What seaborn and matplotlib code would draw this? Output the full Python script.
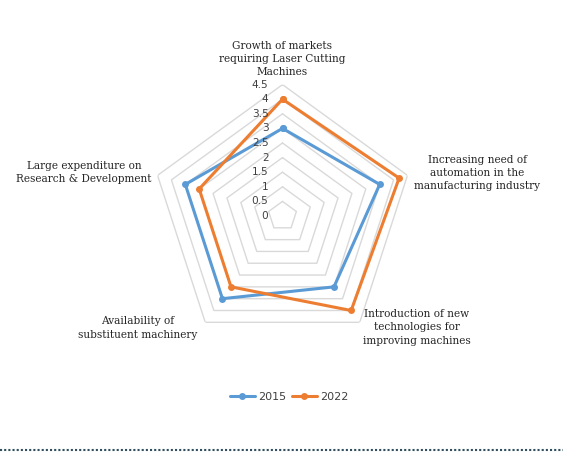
import numpy as np
import pandas as pd
import matplotlib
matplotlib.use("Agg")
import matplotlib.pyplot as plt
import seaborn as sns
from matplotlib import transforms
from matplotlib.lines import Line2D

categories = [
    "Growth of markets\nrequiring Laser Cutting\nMachines",
    "Increasing need of\nautomation in the\nmanufacturing industry",
    "Introduction of new\ntechnologies for\nimproving machines",
    "Availability of\nsubstituent machinery",
    "Large expenditure on\nResearch & Development",
]
values_2015 = [3, 3.5, 3, 3.5, 3.5]
values_2022 = [4, 4.2, 4, 3, 3]
years = ["2015", "2022"]
tick_values = [0, 0.5, 1, 1.5, 2, 2.5, 3, 3.5, 4, 4.5]
colors = {"2015": "#5B9BD5", "2022": "#ED7D31"}

sns.set_style("white")
plt.rcParams["font.family"] = ["DejaVu Sans"]

W, H = 563, 453
fig = plt.figure(figsize=(W / 100, H / 100), dpi=100)
cx, cy, R = 282.5, 216, 131.4
ax = fig.add_axes([(cx - R) / W, (H - cy - R) / H, 2 * R / W, 2 * R / H], projection="polar")
ax.set_theta_offset(np.pi / 2)
ax.set_theta_direction(-1)

n = len(categories)
angles = np.arange(n) * 2 * np.pi / n
closed = np.append(angles, 2 * np.pi)

# grid pentagons
grid_color = "#D9D9D9"
for t in tick_values[1:]:
    ax.plot(closed, [t] * (n + 1), color=grid_color, lw=1.0, zorder=1)

rows = []
for year, vals in zip(years, [values_2015, values_2022]):
    for i in range(n):
        rows.append(dict(theta=angles[i], r=vals[i], year=year))
    rows.append(dict(theta=2 * np.pi, r=vals[0], year=year))
df = pd.DataFrame(rows)

sns.lineplot(data=df, x="theta", y="r", hue="year", palette=colors, sort=False,
             marker="o", markersize=5, markeredgewidth=0, linewidth=2.2,
             legend=False, ax=ax, zorder=3)

ax.grid(False)
ax.spines["polar"].set_visible(False)
ax.set_xticks([])
ax.set_yticks([])
ax.set_ylim(0, tick_values[-1])
ax.set_xlabel("")
ax.set_ylabel("")

off = transforms.offset_copy(ax.transData, fig=fig, x=-14, y=0, units="dots")
for t in tick_values:
    ax.text(0, t, f"{t:g}", transform=off, ha="right", va="center",
            fontsize=7.6, color="#404040")

label_pos = [(282, 59), (477, 173), (416.5, 327.5), (138, 328), (84, 172.5)]
for lab, (x, y) in zip(categories, label_pos):
    fig.text(x / W, 1 - y / H, lab, ha="center", va="center", fontsize=7.6,
             family="DejaVu Serif", color="#262626", linespacing=1.38)

handles = [Line2D([], [], color=colors[y], lw=2.2, marker="o", markersize=5,
                  markeredgewidth=0) for y in years]
fig.legend(handles, years, loc="center", bbox_to_anchor=(289 / W, 1 - 397 / H),
           ncol=2, frameon=False, fontsize=8, handlelength=2.3,
           columnspacing=0.5, handletextpad=0.25, labelcolor="#404040")

fig.add_artist(Line2D([0, 1], [1 - 449.5 / H] * 2, transform=fig.transFigure,
                      color="#2F4F5F", lw=1.5, linestyle=(0, (1, 1))))

fig.savefig("out.png", dpi=100)
